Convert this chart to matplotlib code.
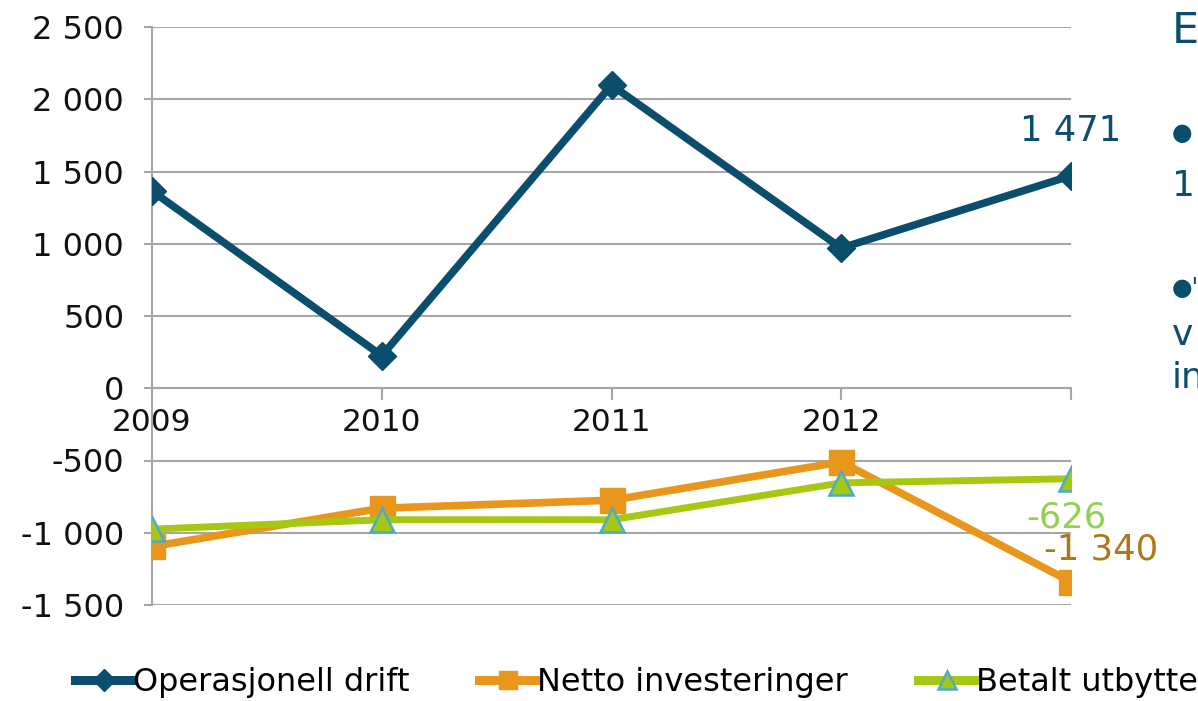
import matplotlib
matplotlib.use("Agg")
import matplotlib.pyplot as plt
from matplotlib.ticker import FuncFormatter, MultipleLocator

# data
years = ["2009", "2010", "2011", "2012", ""]
drift = [1365, 225, 2098, 970, 1471]
investeringer = [-1095, -830, -775, -510, -1340]
utbytte = [-975, -910, -910, -655, -626]

blue = "#0b4d6d"
orange = "#e8971c"
green = "#a6c812"
teal = "#4aacc6"

plt.rcParams['font.family'] = ['DejaVu Sans']

fig = plt.figure(figsize=(11.98, 7.01), dpi=100)
ax = fig.add_axes([152/1198, 1 - 605/701, (1071-152)/1198, (605-27)/701])

x = list(range(len(years)))
ax.plot(x, drift, color=blue, lw=5.5, marker="D", ms=14.5, mec=blue, mfc=blue,
        label="Operasjonell drift", zorder=5)
ax.plot(x, investeringer, color=orange, lw=5.5, marker="s", ms=18, mec=orange, mfc=orange,
        label="Netto investeringer", zorder=4)
ax.plot(x, utbytte, color=green, lw=5, marker="^", ms=17, mec=teal, mew=1.8, mfc=green,
        label="Betalt utbytte", zorder=4)

ax.set_xlim(0, 4)
ax.set_ylim(-1500, 2500)
ax.yaxis.set_major_locator(MultipleLocator(500))
ax.yaxis.set_major_formatter(FuncFormatter(lambda v, p: f"{v:,.0f}".replace(",", " ")))
ax.grid(axis="y", color="#a6a6a6", lw=1.5)
ax.set_axisbelow(True)

for s in ["top", "right"]:
    ax.spines[s].set_visible(False)
ax.spines["bottom"].set_position(("data", 0))
ax.spines["bottom"].set_color("#a6a6a6")
ax.spines["bottom"].set_linewidth(1.5)
ax.spines["left"].set_color("#a6a6a6")
ax.spines["left"].set_linewidth(1.5)

ax.set_xticks(x)
ax.set_xticklabels(years)
ax.tick_params(axis="x", direction="out", length=8.5, width=1.5, color="#a6a6a6",
               labelsize=22.5, pad=6, labelcolor="#111111")
ax.tick_params(axis="y", direction="out", length=6, width=1.5, color="#a6a6a6",
               labelsize=23, pad=14, labelcolor="#111111")

# data labels on last point
ax.annotate(f"{drift[-1]:,}".replace(",", " "), (4, drift[-1]), xytext=(0, 32),
            textcoords="offset points", ha="center", va="center", fontsize=25.5, color=blue,
            annotation_clip=False)
ax.annotate(f"{utbytte[-1]}", (4, utbytte[-1]), xytext=(-3, -28),
            textcoords="offset points", ha="center", va="center", fontsize=25.5, color="#92d050",
            annotation_clip=False)
ax.annotate(f"{investeringer[-1]:,}".replace(",", " "), (4, investeringer[-1]), xytext=(22, 23),
            textcoords="offset points", ha="center", va="center", fontsize=25.5, color="#b07718",
            annotation_clip=False)

# neighbouring slide text, cut off at the edge
side = [("E", 31, 31), ("●", 133, 17), ("1", 186, 26), ("●'", 288, 17), ("v", 335, 26), ("in", 378, 26)]
for t, yy, fs in side:
    fig.text(1172/1198, 1 - yy/701, t, fontsize=fs, color=blue, ha="left", va="center")

leg = fig.legend(loc="lower left", bbox_to_anchor=(72/1198, 0.0), ncol=3, frameon=False,
                 handlelength=1.8, handletextpad=0.0, columnspacing=2.2, borderaxespad=0,
                 borderpad=0.1, markerscale=0.75, fontsize=23)
for h in leg.legend_handles:
    h.set_linewidth(6.5)

fig.savefig("out.png", dpi=100)
